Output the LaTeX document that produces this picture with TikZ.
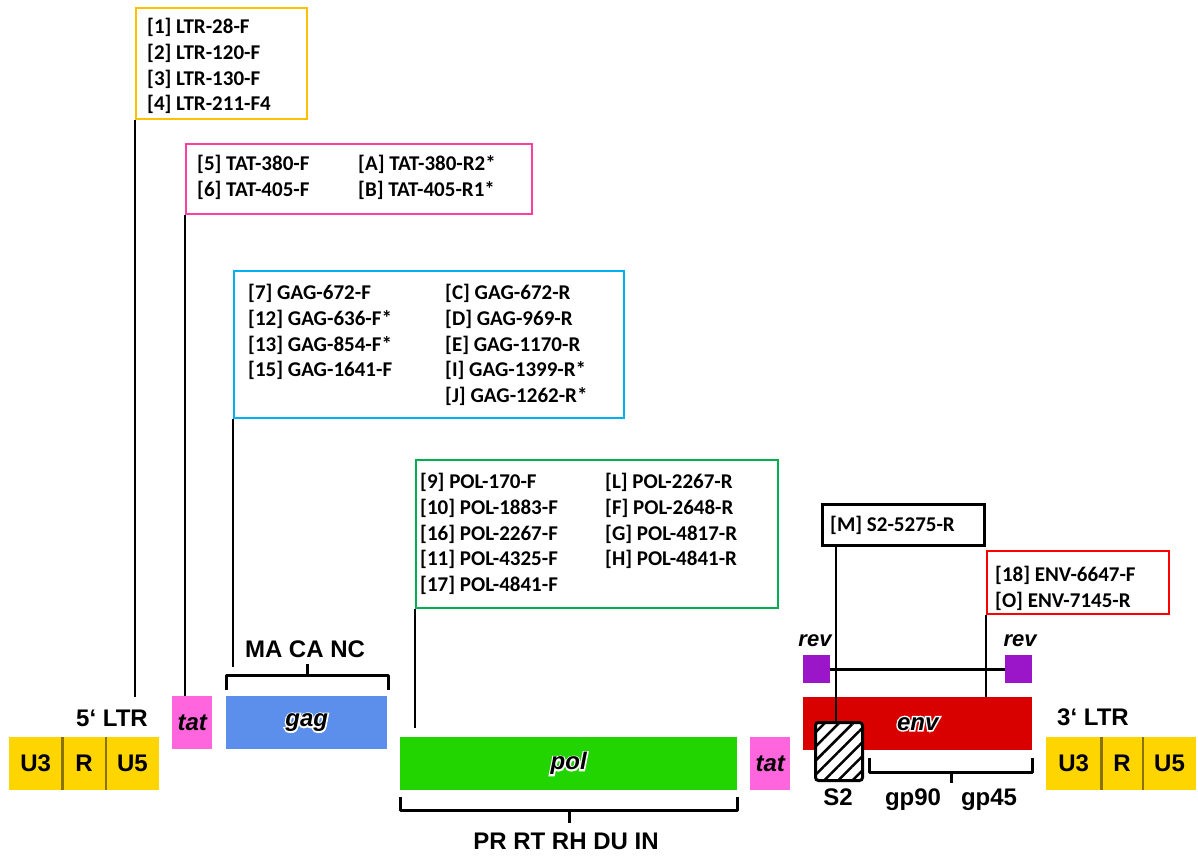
\documentclass[tikz,border=0pt]{standalone}
\usepackage{fontspec}
\setmainfont{Liberation Sans}
\newfontfamily\primerfont{Carlito}
\newfontfamily\halofont[BoldItalicFeatures={FakeBold=12}]{Liberation Sans}
\usetikzlibrary{positioning,patterns.meta}

\definecolor{ltryellow}{HTML}{FFD500}
\definecolor{ltrline}{HTML}{8A7200}
\definecolor{tatpink}{HTML}{FF66DD}
\definecolor{gagblue}{HTML}{5B8FEB}
\definecolor{polgreen}{HTML}{22D400}
\definecolor{envred}{HTML}{D90000}
\definecolor{revpurple}{HTML}{9A16C8}
\definecolor{frameyellow}{HTML}{FFC000}
\definecolor{framepink}{HTML}{FF3FA0}
\definecolor{framecyan}{HTML}{00B0F0}
\definecolor{framegreen}{HTML}{00B050}
\definecolor{framered}{HTML}{FF0000}

% white rim round a gene name
\newcommand{\halo}[1]{\rlap{\color{white}\halofont #1}#1}

\begin{document}
\begin{tikzpicture}[x=1pt, y=-1pt]
% Styles
\tikzset{
    frame/.style={draw=#1, line width=2pt, inner sep=0pt, anchor=north west},
    primers/.style={anchor=north west, align=left, inner sep=0pt,
        font=\primerfont\bfseries\fontsize{21}{25.8}\selectfont},
    gene/.style={fill=#1, inner sep=0pt, anchor=north west,
        font=\bfseries\itshape\fontsize{24}{28}\selectfont},
    region/.style={fill=ltryellow, inner sep=0pt, anchor=north west,
        minimum height=53pt, font=\bfseries\fontsize{24}{28}\selectfont},
    tag/.style={inner sep=0pt, anchor=base, font=\bfseries\fontsize{24}{28}\selectfont},
    revtag/.style={tag, font=\bfseries\itshape\fontsize{22}{26}\selectfont},
    probe/.style={line width=1.5pt},
    brace/.style={line width=3pt, line join=round},
    divider/.style={draw=ltrline, line width=2.5pt}
}
\useasboundingbox (0,0) rectangle (1198,855);

% Primer boxes
\node[frame=frameyellow, minimum width=171pt, minimum height=111pt] (ltrbox) at (135,7) {};
\node[primers] (ltrprimers) at (147,18)
    {{[1] LTR-28-F}\\{[2] LTR-120-F}\\{[3] LTR-130-F}\\{[4] LTR-211-F4}};

\node[frame=framepink, minimum width=346pt, minimum height=70pt] (tatbox) at (185,143) {};
\node[primers] (tatfwd) at (197,155) {{[5] TAT-380-F}\\{[6] TAT-405-F}};
\node[primers] (tatrev) at (358,155) {{[A] TAT-380-R2*}\\{[B] TAT-405-R1*}};

\node[frame=framecyan, minimum width=390pt, minimum height=147pt] (gagbox) at (233,270) {};
\node[primers] (gagfwd) at (248,284)
    {{[7] GAG-672-F}\\{[12] GAG-636-F*}\\{[13] GAG-854-F*}\\{[15] GAG-1641-F}};
\node[primers] (gagrev) at (445,284)
    {{[C] GAG-672-R}\\{[D] GAG-969-R}\\{[E] GAG-1170-R}\\{[I] GAG-1399-R*}\\{[J] GAG-1262-R*}};

\node[frame=framegreen, minimum width=362pt, minimum height=148pt] (polbox) at (415,459) {};
\node[primers] (polfwd) at (420,473)
    {{[9] POL-170-F}\\{[10] POL-1883-F}\\{[16] POL-2267-F}\\{[11] POL-4325-F}\\{[17] POL-4841-F}};
\node[primers] (polrev) at (605,473)
    {{[L] POL-2267-R}\\{[F] POL-2648-R}\\{[G] POL-4817-R}\\{[H] POL-4841-R}};

\node[frame=black, line width=2.5pt, minimum width=162pt, minimum height=41pt] (mbox) at (821,503) {};
\node[primers] (mprimer) at (830,516) {[M] S2-5275-R};

\node[frame=framered, minimum width=182pt, minimum height=63pt] (envbox) at (986,550) {};
\node[primers] (envprimers) at (995,566) {{[18] ENV-6647-F}\\{[O] ENV-7145-R}};

% 5' LTR
\node[region, minimum width=53pt] (u3left) at (9,737) {U3};
\node[region, minimum width=43pt, right=0pt of u3left] (rleft) {R};
\node[region, minimum width=53pt, right=0pt of rleft] (u5left) {U5};
\draw[divider] (u3left.north east) -- (u3left.south east);
\draw[divider] (rleft.north east) -- (rleft.south east);
\node[tag] (ltrfive) at (112,726) {5‘ LTR};

% Genes
\node[gene=tatpink, minimum width=40pt, minimum height=53pt] (tatleft) at (172,696) {tat};
\node[gene=gagblue, minimum width=161pt, minimum height=53pt] (gag) at (226,696) {\halo{gag}};
\node[gene=polgreen, minimum width=337pt, minimum height=53pt] (pol) at (400,737) {\halo{pol}};
\node[gene=tatpink, minimum width=40pt, minimum height=53pt] (tatright) at (750,737) {tat};
\node[gene=envred, minimum width=229pt, minimum height=53pt] (env) at (803,697) {\halo{env}};
\node[gene=revpurple, minimum width=27pt, minimum height=28pt] (revleft) at (803,655) {};
\node[gene=revpurple, minimum width=27pt, minimum height=28pt] (revright) at (1005,655) {};
\node[revtag] (revtagleft) at (815,646) {rev};
\node[revtag] (revtagright) at (1020,646) {rev};
\draw[line width=3pt] (revleft.east) -- (revright.west);

% 3' LTR
\node[region, minimum width=55pt] (u3right) at (1046,737) {U3};
\node[region, minimum width=41pt, right=0pt of u3right] (rright) {R};
\node[region, minimum width=53pt, right=0pt of rright] (u5right) {U5};
\draw[divider] (u3right.north east) -- (u3right.south east);
\draw[divider] (rright.north east) -- (rright.south east);
\node[tag] (ltrthree) at (1093,725) {3‘ LTR};

% Braces
\draw[brace] (226,690) -- (226,675) -- (388,675) -- (388,690);
\draw[brace] (307,675) -- (307,664);
\node[tag] (gagparts) at (305,657) {MA CA NC};
\draw[brace] (400,797) -- (400,810) -- (737,810) -- (737,797);
\draw[brace] (569,810) -- (569,823);
\node[tag] (polparts) at (566,849) {PR RT RH DU IN};
\draw[brace] (869,758) -- (869,772) -- (1032,772) -- (1032,758);
\draw[brace] (951,772) -- (951,783);
\node[tag] (gpninety) at (913,805) {gp90};
\node[tag] (gpfortyfive) at (989,805) {gp45};

% Connections
\coordinate (ltrend) at (135,697);
\coordinate (gagend) at (233,667);
\coordinate (polend) at (415,728);
\draw[probe] (ltrbox.south west) -- (ltrend);
\draw[probe] (tatbox.south west) -- (tatbox.south west |- tatleft.north);
\draw[probe] (gagbox.south west) -- (gagend);
\draw[probe] (polbox.south west) -- (polend);
\draw[probe] (envbox.south west) -- (envbox.south west |- env.north);

% S2
\node[draw, line width=3pt, rounded corners=3pt, fill=white, inner sep=0pt,
    anchor=north west, minimum width=47pt, minimum height=58pt,
    postaction={pattern={Lines[angle=45, distance=10pt, line width=2.5pt]}}]
    (hatch) at (814,721) {};
\draw[probe] ([xshift=-3pt]mbox.south -| hatch.north) -- ([xshift=-3pt]hatch.north);
\node[tag] (stwo) at (838,805) {S2};
\end{tikzpicture}
\end{document}
